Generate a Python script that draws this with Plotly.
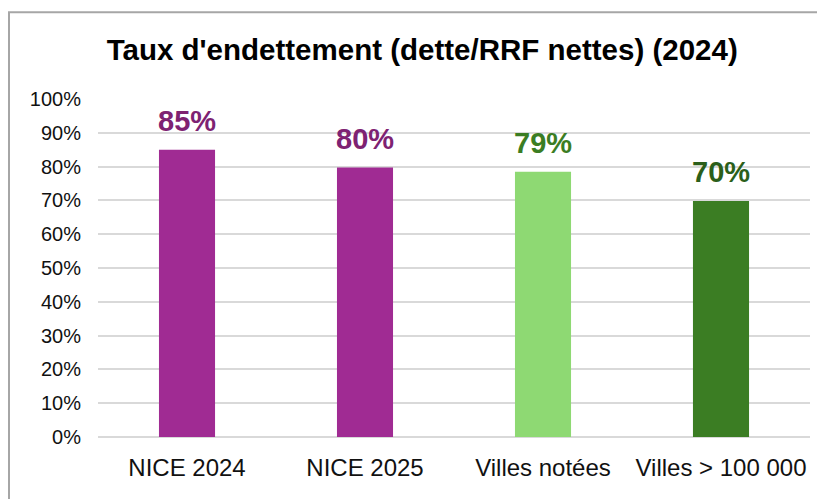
import plotly.graph_objects as go

categories = ["NICE 2024", "NICE 2025", "Villes notées", "Villes > 100 000"]
values = [0.85, 0.797, 0.785, 0.698]
value_labels = ["85%", "80%", "79%", "70%"]
bar_colors = ["#A02B93", "#A02B93", "#8ED973", "#3B7D23"]
label_colors = ["#7E2272", "#7E2272", "#3B7D23", "#2B5F1A"]
tick_vals = [i / 10 for i in range(11)]
tick_text = [f"{i*10}%" for i in range(11)]

FONT = "Liberation Sans, Arial, sans-serif"

fig = go.Figure()
fig.add_trace(go.Bar(
    x=categories, y=values,
    marker=dict(color=bar_colors, line=dict(width=0)),
    width=0.315,
    hoverinfo="skip",
))

for c, v, t, col in zip(categories, values, value_labels, label_colors):
    fig.add_annotation(x=c, y=v, text=f"<b>{t}</b>", showarrow=False,
                       yanchor="bottom", yshift=11,
                       font=dict(family=FONT, size=29, color=col))

fig.add_shape(type="rect", xref="paper", yref="paper",
              x0=-0.125, x1=1.1, y0=-0.3, y1=1.257,
              line=dict(color="#A6A6A6", width=2), layer="below")

fig.update_layout(
    width=817, height=491,
    margin=dict(l=90, r=15, t=91, b=62),
    paper_bgcolor="white", plot_bgcolor="white",
    showlegend=False,
    title=dict(text="<b>Taux d'endettement (dette/RRF nettes) (2024)</b>",
               x=0.507, xanchor="center", y=0.916, yanchor="middle",
               font=dict(family=FONT, size=29.5, color="black")),
    xaxis=dict(showgrid=False, showline=False, ticks="",
               tickfont=dict(family=FONT, size=24, color="#111111"),
               ticklabelstandoff=14),
    yaxis=dict(range=[0, 1], tickvals=tick_vals, ticktext=tick_text,
               showgrid=True, gridcolor="#D9D9D9", gridwidth=1.5,
               zeroline=True, zerolinecolor="#D9D9D9", zerolinewidth=1.5,
               showline=False, ticks="",
               tickfont=dict(family=FONT, size=20, color="#111111"),
               ticklabelstandoff=16),
)

fig.write_html("out.html")
